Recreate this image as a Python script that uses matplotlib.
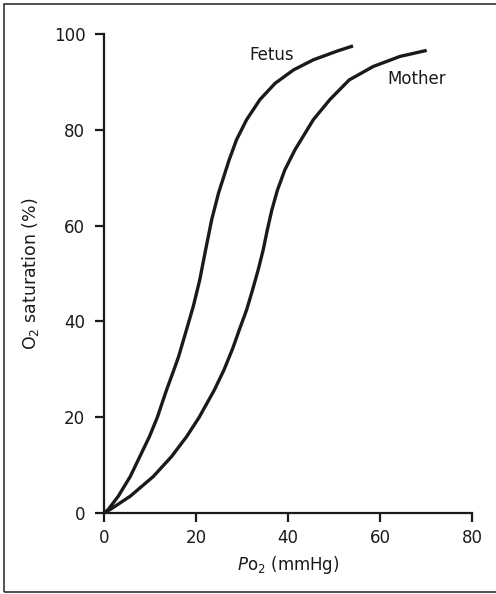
import numpy as np
import matplotlib.pyplot as plt
from matplotlib.patches import Rectangle

# values
fetus_po2 = [0, 0.9, 3.1, 5.7, 7.8, 9.9, 11.6, 13.6, 15.2, 16.2, 17.7, 19.4, 20.8, 22.0,
             23.4, 24.9, 27.2, 28.8, 31.0, 33.9, 37.2, 41.2, 45.5, 50.6, 53.8]
fetus_sat = [0, 0.7, 3.5, 7.6, 11.8, 16.0, 20.0, 25.7, 29.9, 32.6, 37.5, 43.1, 48.6, 54.5,
             61.2, 66.8, 73.7, 77.9, 82.1, 86.3, 89.7, 92.5, 94.6, 96.4, 97.4]
mother_po2 = [0, 1.3, 5.7, 10.7, 14.7, 18.0, 20.7, 24.0, 26.1, 28.0, 29.4, 31.0, 32.3,
              33.5, 34.6, 35.5, 36.5, 37.7, 39.3, 41.5, 45.5, 49.1, 53.3, 58.5, 64.3, 69.8]
mother_sat = [0, 0.7, 3.5, 7.6, 11.8, 16.0, 20.0, 25.7, 29.9, 34.4, 38.2, 42.4, 46.6,
              50.7, 54.9, 59.1, 63.3, 67.4, 71.6, 75.8, 82.1, 86.3, 90.4, 93.2, 95.3, 96.5]
x_ticks = [0, 20, 40, 60, 80]
y_ticks = [0, 20, 40, 60, 80, 100]

plt.rcParams['font.family'] = ['DejaVu Sans']
plt.rcParams['mathtext.fontset'] = 'dejavusans'

fig = plt.figure(figsize=(4.96, 5.94), dpi=100)
ax = fig.add_axes([0.2097, 0.1364, 0.7419, 0.8064])

ax.plot(fetus_po2, fetus_sat, color='#1a1a1a', lw=2.4, solid_joinstyle='round')
ax.plot(mother_po2, mother_sat, color='#1a1a1a', lw=2.4, solid_joinstyle='round')

ax.text(36.5, 97.4, 'Fetus', fontsize=12, ha='center', va='top', color='#1a1a1a')
ax.text(68.0, 92.4, 'Mother', fontsize=12, ha='center', va='top', color='#1a1a1a')

ax.set_xlim(0, 80)
ax.set_ylim(0, 100)
ax.set_xticks(x_ticks)
ax.set_yticks(y_ticks)
for s in ['top', 'right']:
    ax.spines[s].set_visible(False)
for s in ['left', 'bottom']:
    ax.spines[s].set_linewidth(1.6)
    ax.spines[s].set_color('#1a1a1a')
ax.tick_params(direction='out', length=6.5, width=1.6, color='#1a1a1a',
               labelcolor='#1a1a1a', labelsize=12)
ax.tick_params(axis='y', pad=7)
ax.tick_params(axis='x', pad=5)

ax.set_xlabel(r'$\mathit{P}\mathrm{o}_2$ (mmHg)', fontsize=12, labelpad=5, color='#1a1a1a')
ax.set_ylabel(r'O$_2$ saturation (%)', fontsize=12.5, labelpad=9, color='#1a1a1a')

# border round the whole figure
fig.patches.append(Rectangle((0.008, 0.003), 0.995, 0.99, transform=fig.transFigure,
                             fill=False, edgecolor='#333333', lw=1.2))

fig.savefig('out.png', dpi=100)
